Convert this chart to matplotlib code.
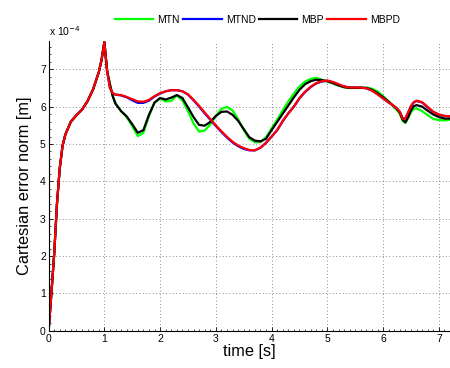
import numpy as np
import matplotlib
matplotlib.use("Agg")
import matplotlib.pyplot as plt
from matplotlib.ticker import FuncFormatter, MultipleLocator

plt.rcParams['font.family'] = ['Liberation Sans', 'DejaVu Sans']

# time axis [s]
t = [0.0, 0.05, 0.1, 0.15, 0.2, 0.25, 0.3, 0.4, 0.5, 0.6, 0.7, 0.8, 0.9, 0.95,
     1.0, 1.05, 1.1, 1.15, 1.2, 1.3, 1.4, 1.5, 1.6, 1.7, 1.8, 1.9,
     2.0, 2.1, 2.2, 2.3, 2.4, 2.5, 2.6, 2.7, 2.8, 2.9,
     3.0, 3.1, 3.2, 3.3, 3.4, 3.5, 3.6, 3.7, 3.8, 3.9,
     4.0, 4.1, 4.2, 4.3, 4.4, 4.5, 4.6, 4.7, 4.8, 4.9,
     5.0, 5.1, 5.2, 5.3, 5.4, 5.5, 5.6, 5.7, 5.8, 5.9,
     6.0, 6.1, 6.2, 6.25, 6.3, 6.35, 6.4, 6.45, 6.5, 6.55, 6.6,
     6.7, 6.8, 6.9, 7.0, 7.1, 7.2]

# common start (0 .. 1 s), values in units of 1e-4 m
start = [0.0, 1.0, 2.05, 3.4, 4.35, 4.95, 5.25, 5.6, 5.77, 5.92, 6.15, 6.47, 6.92, 7.25, 7.73]

mtn = start + [6.95, 6.6, 6.28, 6.08, 5.88, 5.72, 5.48, 5.21, 5.3, 5.75, 6.1,
               6.22, 6.14, 6.15, 6.3, 6.16, 5.88, 5.55, 5.33, 5.36, 5.52,
               5.75, 5.94, 5.99, 5.9, 5.66, 5.37, 5.14, 5.05, 5.05, 5.18,
               5.42, 5.65, 5.9, 6.14, 6.35, 6.54, 6.67, 6.74, 6.77, 6.72,
               6.67, 6.62, 6.56, 6.52, 6.5, 6.5, 6.5, 6.51, 6.48, 6.41,
               6.28, 6.14, 5.98, 5.9, 5.8, 5.62, 5.56, 5.7, 5.85, 5.94, 5.95,
               5.88, 5.77, 5.67, 5.64, 5.63, 5.65]

mtnd = start + [6.95, 6.5, 6.36, 6.32, 6.3, 6.25, 6.17, 6.1, 6.1, 6.16, 6.27,
                6.35, 6.41, 6.44, 6.44, 6.41, 6.32, 6.17, 6.0, 5.82, 5.65,
                5.48, 5.32, 5.17, 5.04, 4.94, 4.87, 4.83, 4.83, 4.9, 5.03,
                5.2, 5.37, 5.61, 5.82, 6.0, 6.22, 6.39, 6.52, 6.62, 6.67,
                6.69, 6.65, 6.59, 6.54, 6.51, 6.51, 6.51, 6.49, 6.43, 6.33,
                6.22, 6.11, 6.01, 5.95, 5.86, 5.69, 5.68, 5.84, 6.01, 6.11, 6.15,
                6.11, 5.98, 5.86, 5.78, 5.75, 5.74]

mbp = start + [6.95, 6.6, 6.28, 6.08, 5.88, 5.74, 5.53, 5.3, 5.37, 5.78, 6.11,
               6.23, 6.19, 6.24, 6.31, 6.23, 5.98, 5.72, 5.51, 5.49, 5.59,
               5.75, 5.86, 5.87, 5.78, 5.62, 5.4, 5.18, 5.09, 5.07, 5.14,
               5.37, 5.59, 5.81, 6.03, 6.25, 6.45, 6.6, 6.68, 6.72, 6.71,
               6.68, 6.63, 6.57, 6.52, 6.5, 6.5, 6.5, 6.5, 6.45, 6.36,
               6.25, 6.13, 6.0, 5.93, 5.84, 5.65, 5.58, 5.72, 5.9, 6.01, 6.04,
               6.0, 5.89, 5.79, 5.72, 5.68, 5.68]

mbpd = start + [6.95, 6.5, 6.36, 6.32, 6.31, 6.26, 6.2, 6.14, 6.13, 6.18, 6.28,
                6.36, 6.41, 6.44, 6.44, 6.41, 6.33, 6.18, 6.02, 5.84, 5.67,
                5.5, 5.34, 5.19, 5.06, 4.96, 4.89, 4.84, 4.83, 4.9, 5.03,
                5.2, 5.37, 5.62, 5.82, 6.0, 6.23, 6.4, 6.53, 6.63, 6.68,
                6.7, 6.66, 6.6, 6.54, 6.51, 6.51, 6.51, 6.49, 6.43, 6.33,
                6.22, 6.11, 6.01, 5.95, 5.86, 5.68, 5.68, 5.85, 6.02, 6.12, 6.16,
                6.12, 5.99, 5.86, 5.79, 5.75, 5.74]

labels = ["MTN", "MTND", "MBP", "MBPD"]
colors = ["#00ff00", "#0000ff", "#000000", "#ff0000"]
scale = 1e-4

fig = plt.figure(figsize=(4.5, 3.68), dpi=100)
ax = fig.add_axes([0.108, 0.101, 0.892, 0.787])

for y, lab, c in zip([mtn, mtnd, mbp, mbpd], labels, colors):
    ax.plot(t, np.array(y) * scale, color=c, lw=1.6, label=lab)

ax.set_xlim(0, 7.2)
ax.set_ylim(0, 7.75e-4)
ax.xaxis.set_major_locator(MultipleLocator(1))
ax.yaxis.set_major_locator(MultipleLocator(1e-4))
ax.xaxis.set_minor_locator(MultipleLocator(0.1))
ax.yaxis.set_minor_locator(MultipleLocator(0.2e-4))
ax.yaxis.set_major_formatter(FuncFormatter(lambda v, p: "%g" % round(v / scale, 6)))
ax.tick_params(which='major', direction='in', length=3, labelsize=7.5, pad=2, width=0.6)
ax.tick_params(which='minor', direction='in', length=1.5, width=0.5)
ax.grid(True, which='major', linestyle=(0, (1, 3)), color='#666666', lw=0.6)

for s in ['top', 'right']:
    ax.spines[s].set_visible(False)
for s in ['left', 'bottom']:
    ax.spines[s].set_linewidth(0.8)

ax.text(0.0, 1.01, r"x 10$^{-4}$", transform=ax.transAxes, fontsize=7.5, va='bottom', ha='left')

ax.set_xlabel("time [s]", fontsize=11.8, labelpad=0)
ax.set_ylabel("Cartesian error norm [m]", fontsize=11.8, labelpad=6)

ax.legend(loc='center', bbox_to_anchor=(0.52, 1.074), ncol=4, frameon=False, fontsize=7.5,
          handlelength=3.7, handletextpad=0.4, columnspacing=0.3, borderaxespad=0)

fig.savefig("out.png", dpi=100)
